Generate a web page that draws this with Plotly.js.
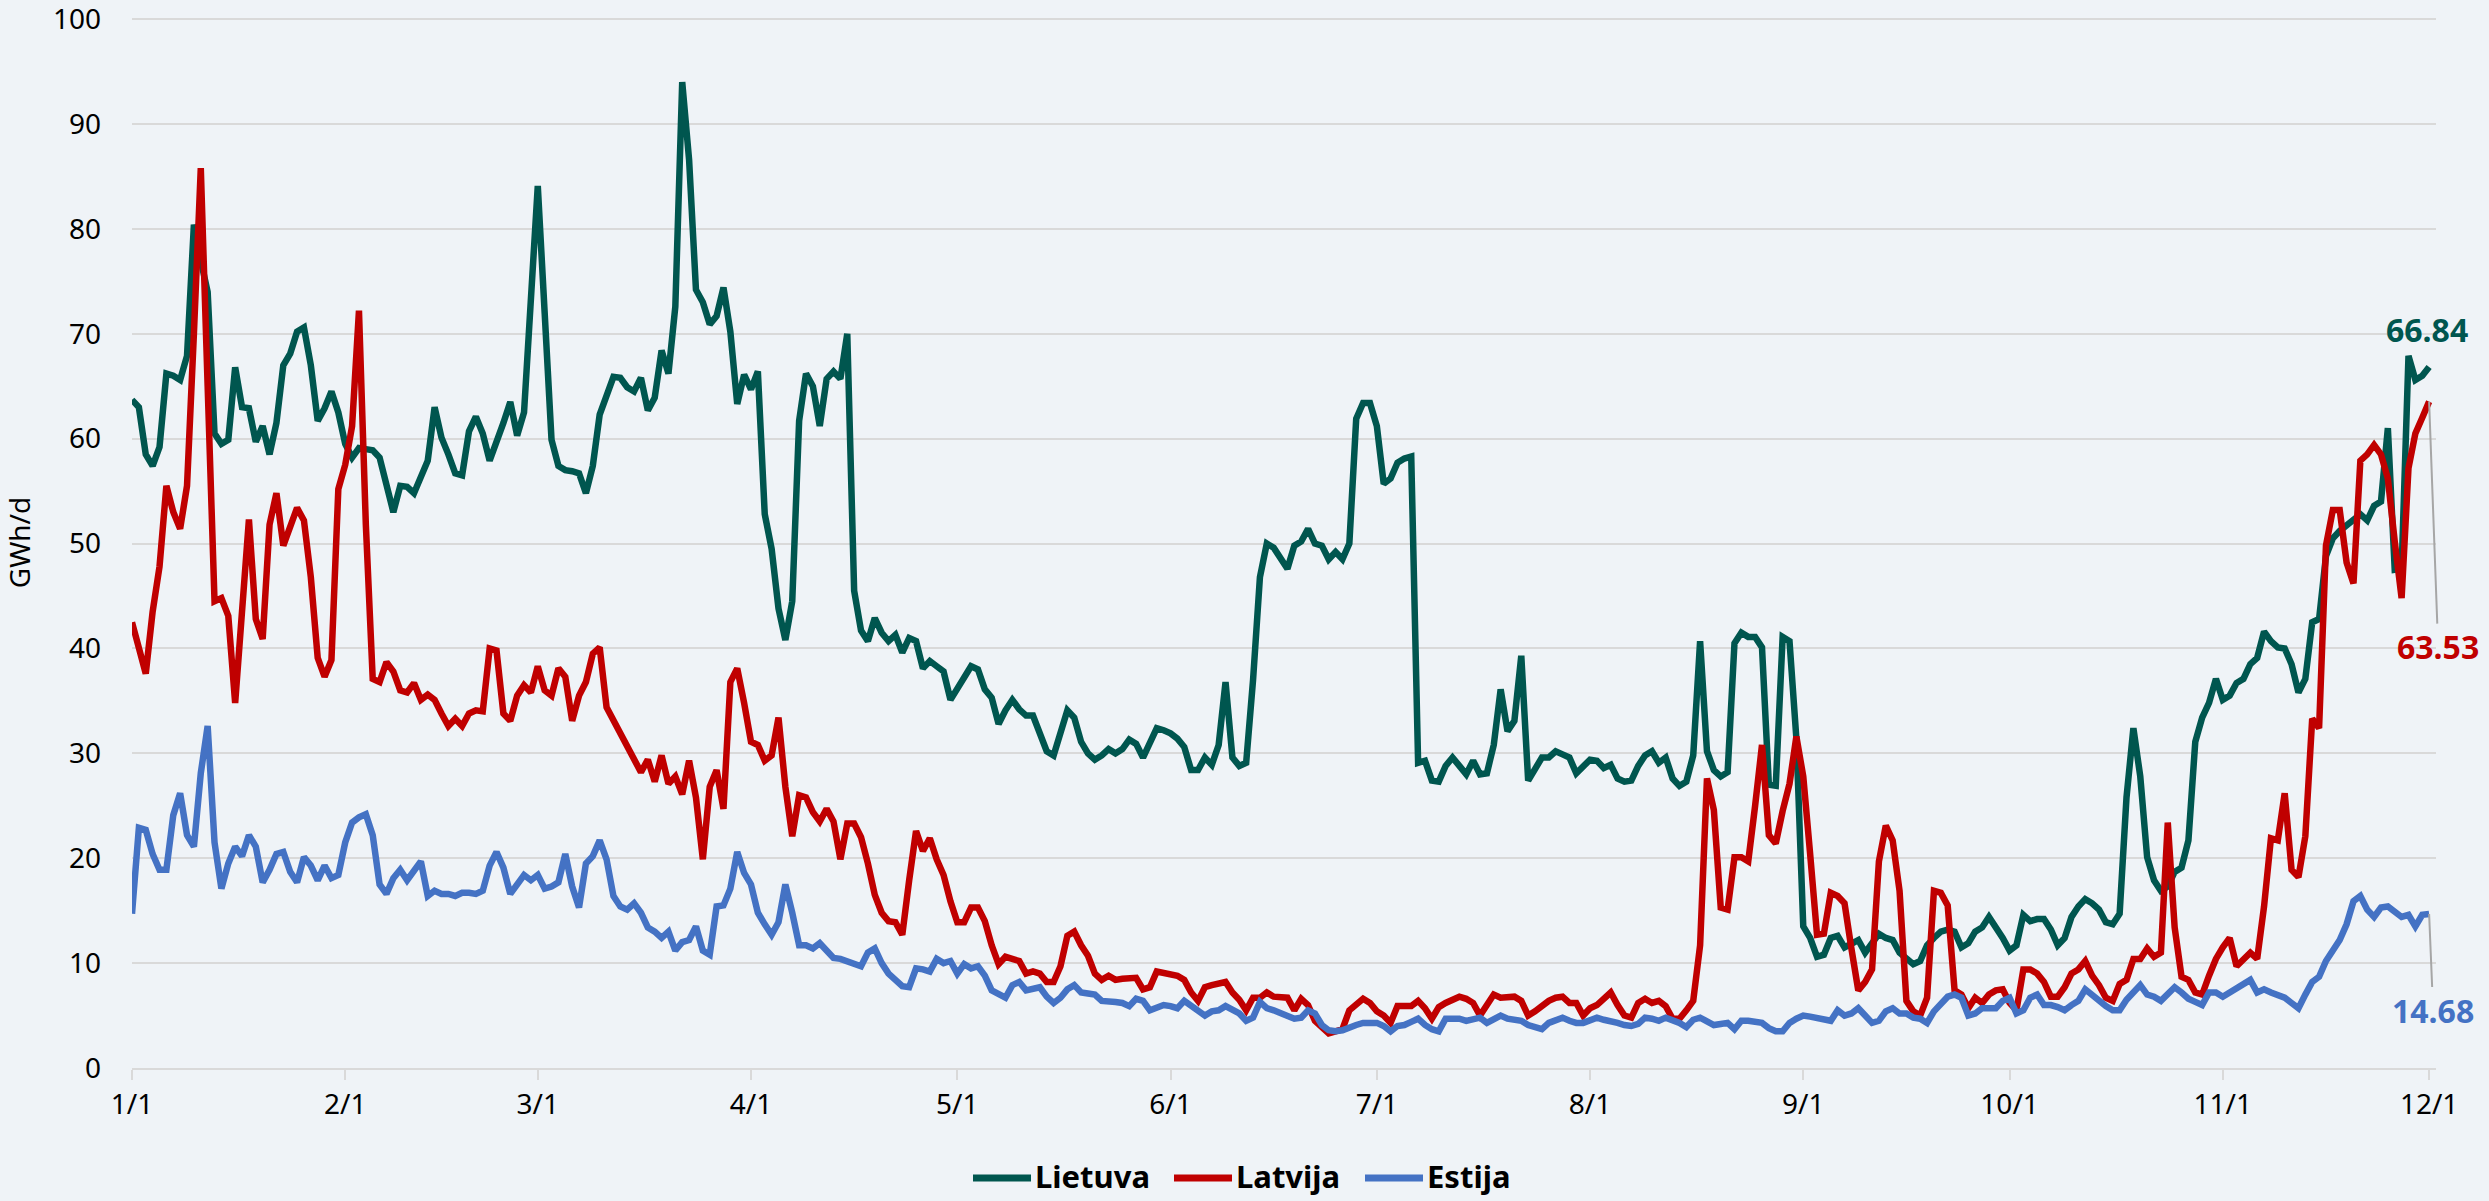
<!DOCTYPE html>
<html><head><meta charset="utf-8">
<script src="https://cdn.plot.ly/plotly-3.0.1.min.js"></script>
<style>html,body{margin:0;padding:0;background:#EFF3F7;} #chart{width:2489px;height:1201px;}</style>
</head><body><div id="chart"></div>
<script>
// Daily values, GWh/d, from 1 Jan to 1 Dec
const startYear = 2023;
const seriesNames = ['Lietuva', 'Latvija', 'Estija'];
const seriesColors = ['#00564F', '#C00000', '#4472C4'];

const lietuva = [
  // Jan
  63.7,63.0,58.5,57.4,59.2,66.2,66.0,65.6,67.9,80.4,77.0,74.0,60.5,59.5,59.9,66.8,63.0,62.9,59.7,61.2,58.5,61.5,67.0,68.1,70.2,70.6,67.0,61.7,62.9,64.5,62.5,
  // Feb
  59.5,58.2,59.1,59.0,58.9,58.2,55.5,53.0,55.5,55.4,54.8,56.3,57.9,63.0,60.1,58.5,56.7,56.5,60.7,62.1,60.5,57.9,59.5,61.5,63.5,60.3,62.5,74.2,
  // Mar
  84.1,72.0,59.9,57.4,57.0,56.9,56.7,54.8,57.4,62.3,63.9,65.9,65.8,64.9,64.5,65.8,62.7,63.9,68.4,66.2,72.6,94.0,86.6,74.2,73.0,70.9,71.7,74.4,70.2,63.3,66.1,
  // Apr
  64.7,66.4,52.8,49.5,43.8,40.8,44.5,61.7,66.2,65.0,61.2,65.7,66.4,65.7,70.0,45.5,41.7,40.7,42.9,41.5,40.7,41.3,39.6,41.0,40.7,38.1,38.8,38.3,37.8,35.1,
  // May
  36.1,37.3,38.3,38.0,36.1,35.3,32.8,34.1,35.1,34.2,33.6,33.6,31.8,30.2,29.8,31.8,34.1,33.4,31.1,30.0,29.4,29.8,30.4,30.0,30.4,31.3,30.9,29.6,30.9,32.4,32.2,
  // Jun
  31.9,31.4,30.6,28.4,28.4,29.6,28.9,30.8,36.8,29.6,28.8,29.1,37.0,46.8,50.0,49.6,48.6,47.6,49.8,50.2,51.4,50.0,49.8,48.5,49.2,48.5,50.0,61.9,63.4,63.4,
  // Jul
  61.2,55.7,56.2,57.7,58.1,58.3,29.1,29.3,27.4,27.3,28.8,29.6,28.8,28.0,29.3,28.0,28.1,30.8,36.1,32.1,33.1,39.3,27.4,28.4,29.6,29.6,30.2,29.9,29.6,28.1,28.8,
  // Aug
  29.4,29.3,28.6,28.9,27.6,27.3,27.4,28.8,29.8,30.2,29.1,29.6,27.6,26.9,27.3,29.8,40.7,30.2,28.4,27.8,28.2,40.5,41.5,41.1,41.1,40.1,27.0,26.9,41.1,40.7,31.4,
  // Sep
  13.5,12.4,10.6,10.8,12.4,12.6,11.5,11.9,12.2,11.0,12.0,12.8,12.4,12.2,11.0,10.5,9.9,10.2,11.7,12.4,13.0,13.2,13.0,11.5,11.9,13.0,13.4,14.4,13.5,12.4,
  // Oct
  11.2,11.7,14.6,14.0,14.2,14.2,13.2,11.7,12.4,14.4,15.4,16.1,15.7,15.1,13.9,13.7,14.7,25.8,32.4,27.8,20.1,17.9,16.9,17.3,18.7,19.1,21.7,31.1,33.4,34.8,37.1,
  // Nov
  35.1,35.5,36.7,37.1,38.5,39.1,41.6,40.7,40.1,40.0,38.5,35.8,37.1,42.5,42.8,48.8,50.5,51.2,51.8,52.3,52.8,52.2,53.6,54.0,61.0,47.5,47.6,67.9,65.6,66.0,
  // Dec
  66.84
];

const latvija = [
  // Jan
  42.5,40.1,37.6,43.5,47.8,55.5,53.0,51.4,55.5,70.0,85.8,65.0,44.5,44.8,43.1,34.8,43.0,52.3,42.8,40.9,51.8,54.8,49.8,51.5,53.4,52.2,46.8,39.1,37.3,38.9,55.2,
  // Feb
  57.5,61.2,72.2,51.8,37.1,36.8,38.7,37.8,36.0,35.8,36.7,35.1,35.6,35.1,33.8,32.6,33.3,32.6,33.8,34.1,34.0,40.0,39.8,33.8,33.1,35.5,36.5,35.8,
  // Mar
  38.3,36.0,35.5,38.1,37.3,33.1,35.5,36.8,39.5,40.1,34.4,33.1,32.0,30.8,29.5,28.2,29.4,27.3,29.8,27.1,27.8,26.1,29.3,25.8,19.9,26.8,28.4,24.7,36.8,38.1,34.8,
  // Apr
  31.1,30.8,29.3,29.8,33.4,26.8,22.1,26.0,25.8,24.4,23.5,24.7,23.5,19.9,23.3,23.3,22.0,19.5,16.5,14.8,14.0,13.9,12.7,17.9,22.6,20.7,21.9,19.9,18.4,15.9,
  // May
  13.9,13.9,15.3,15.3,14.0,11.7,9.9,10.6,10.4,10.2,9.0,9.2,9.0,8.2,8.2,9.7,12.6,13.0,11.7,10.7,9.0,8.4,8.8,8.4,8.5,8.6,8.6,7.5,7.7,9.2,9.1,
  // Jun
  9.0,8.8,8.4,7.2,6.4,7.7,7.9,8.0,8.2,7.2,6.5,5.5,6.7,6.7,7.2,6.8,6.7,6.7,5.5,6.6,6.0,4.5,3.9,3.3,3.5,3.7,5.5,6.0,6.6,6.2,
  // Jul
  5.4,5.0,4.3,5.9,5.9,5.9,6.4,5.7,4.7,5.8,6.2,6.5,6.8,6.6,6.2,5.0,6.0,7.0,6.7,6.8,6.8,6.4,5.0,5.4,6.0,6.4,6.7,6.8,6.2,6.2,5.0,
  // Aug
  5.7,6.0,6.6,7.2,6.0,5.0,4.8,6.2,6.6,6.2,6.4,5.9,4.7,4.7,5.5,6.4,11.7,27.6,24.6,15.3,15.1,20.1,20.1,19.7,25.0,30.8,22.2,21.4,24.5,27.1,31.6,
  // Sep
  27.8,20.4,12.7,12.8,16.7,16.4,15.7,11.4,7.4,8.2,9.4,19.7,23.1,21.7,16.9,6.4,5.4,5.0,6.7,16.9,16.7,15.5,7.4,7.0,5.7,6.7,6.2,7.0,7.4,7.5,
  // Oct
  6.2,5.5,9.4,9.4,9.0,8.2,6.8,6.8,7.7,9.0,9.4,10.2,8.8,7.9,6.7,6.4,8.0,8.4,10.4,10.4,11.4,10.6,11.0,23.4,13.4,8.7,8.4,7.2,7.0,8.8,10.4,
  // Nov
  11.5,12.4,9.7,10.4,11.0,10.4,15.4,21.9,21.7,26.2,18.9,18.2,22.1,33.3,32.4,49.8,53.2,53.2,48.2,46.2,57.9,58.5,59.4,58.5,56.2,50.2,44.8,57.2,60.5,62.0,
  // Dec
  63.53
];

const estija = [
  // Jan
  14.7,22.9,22.7,20.4,18.9,18.9,24.1,26.2,22.2,21.1,28.1,32.6,21.5,17.1,19.5,21.1,20.2,22.2,21.1,17.7,18.9,20.4,20.6,18.7,17.7,20.1,19.3,17.9,19.3,18.1,18.4,
  // Feb
  21.5,23.4,23.9,24.2,22.2,17.5,16.6,18.1,18.9,17.9,18.9,19.7,16.4,16.9,16.6,16.6,16.4,16.7,16.7,16.6,16.9,19.3,20.6,19.1,16.6,17.5,18.4,17.9,
  // Mar
  18.4,17.1,17.3,17.7,20.4,17.3,15.3,19.5,20.2,21.7,19.9,16.4,15.4,15.1,15.7,14.8,13.4,13.0,12.4,13.0,11.2,12.0,12.2,13.5,11.2,10.8,15.4,15.5,17.1,20.6,18.6,
  // Apr
  17.5,14.8,13.7,12.7,13.9,17.5,14.8,11.7,11.7,11.4,11.9,11.3,10.5,10.4,10.2,9.9,9.7,11.0,11.4,10.0,9.0,8.4,7.8,7.7,9.5,9.4,9.2,10.4,10.0,10.2,
  // May
  9.0,9.9,9.5,9.7,8.8,7.4,7.0,6.7,7.9,8.2,7.4,7.6,7.7,6.8,6.2,6.7,7.5,7.9,7.2,7.1,7.0,6.4,6.4,6.3,6.2,5.9,6.6,6.4,5.5,5.8,6.0,
  // Jun
  5.9,5.7,6.4,5.9,5.4,5.0,5.4,5.5,5.9,5.5,5.2,4.5,4.8,6.3,5.7,5.5,5.2,5.0,4.7,4.8,5.5,5.2,4.1,3.6,3.5,3.6,3.9,4.1,4.3,4.3,
  // Jul
  4.3,4.0,3.5,4.0,4.1,4.4,4.7,4.1,3.7,3.5,4.7,4.7,4.7,4.5,4.6,4.8,4.3,4.7,5.0,4.7,4.6,4.5,4.1,3.9,3.7,4.3,4.5,4.8,4.5,4.3,4.3,
  // Aug
  4.6,4.8,4.6,4.5,4.3,4.1,4.0,4.2,4.8,4.7,4.5,4.8,4.6,4.3,3.9,4.6,4.8,4.5,4.1,4.2,4.3,3.7,4.5,4.5,4.4,4.3,3.8,3.5,3.5,4.3,4.7,
  // Sep
  5.0,4.9,4.8,4.6,4.5,5.5,5.0,5.2,5.7,5.0,4.3,4.5,5.4,5.7,5.2,5.2,4.8,4.7,4.3,5.4,6.2,6.8,7.0,6.7,5.0,5.2,5.7,5.7,5.7,6.4,
  // Oct
  6.7,5.2,5.5,6.7,7.0,6.0,6.0,5.8,5.5,6.0,6.4,7.5,6.9,6.4,5.9,5.5,5.5,6.5,7.2,7.9,7.0,6.8,6.4,7.0,7.7,7.2,6.6,6.3,6.0,7.2,7.2,
  // Nov
  6.8,7.2,7.5,7.9,8.4,7.2,7.5,7.2,7.0,6.7,6.2,5.7,7.0,8.2,8.7,10.2,11.2,12.2,13.7,15.9,16.4,15.1,14.4,15.3,15.4,14.8,14.4,14.6,13.5,14.6,
  // Dec
  14.68
];

const tickDates = ['2023-01-01','2023-02-01','2023-03-01','2023-04-01','2023-05-01','2023-06-01',
                   '2023-07-01','2023-08-01','2023-09-01','2023-10-01','2023-11-01','2023-12-01'];
const tickLabels = ['1/1','2/1','3/1','4/1','5/1','6/1','7/1','8/1','9/1','10/1','11/1','12/1'];
const yTicks = [0, 10, 20, 30, 40, 50, 60, 70, 80, 90, 100];

function dailyDates(n) {
  const out = [];
  const t0 = Date.UTC(startYear, 0, 1);
  for (let i = 0; i < n; i++) out.push(new Date(t0 + i * 86400000).toISOString().slice(0, 10));
  return out;
}

const W = 2489, H = 1201;
const M = { l: 132, r: 53, t: 17, b: 133 };
const FONT = 'Noto Sans, Open Sans, DejaVu Sans, sans-serif';
const allSeries = [lietuva, latvija, estija];
const traces = allSeries.map((vals, k) => ({
  type: 'scatter', mode: 'lines', name: seriesNames[k],
  x: dailyDates(vals.length), y: vals,
  line: { color: seriesColors[k], width: 6.5 },
  hoverinfo: 'skip', showlegend: false
}));

const lastX = dailyDates(lietuva.length)[lietuva.length - 1];
const annotations = [
  { x: lastX, y: lietuva[lietuva.length - 1], text: lietuva[lietuva.length - 1].toFixed(2),
    showarrow: false, yshift: 37, xshift: -2,
    font: { family: FONT, size: 32, color: seriesColors[0], weight: 'bold' } },
  { x: lastX, y: latvija[latvija.length - 1], text: latvija[latvija.length - 1].toFixed(2),
    showarrow: true, arrowhead: 0, arrowwidth: 2, arrowcolor: '#A6A6A6', ax: 9, ay: 245, standoff: 0,
    font: { family: FONT, size: 32, color: seriesColors[1], weight: 'bold' } },
  { x: lastX, y: estija[estija.length - 1], text: estija[estija.length - 1].toFixed(2),
    showarrow: true, arrowhead: 0, arrowwidth: 2, arrowcolor: '#A6A6A6', ax: 4, ay: 96, standoff: 0,
    font: { family: FONT, size: 32, color: seriesColors[2], weight: 'bold' } }
];

// Custom legend below the plot (line sample + bold name), in paper coordinates
const plotW = W - M.l - M.r, plotH = H - M.t - M.b;
const px2x = p => (p - M.l) / plotW;
const py2y = p => (H - M.b - p) / plotH;
const legendStarts = [973, 1174, 1365];   // pixel x where each legend sample begins
const legendLineY = 1178, legendTextY = 1176;
const shapes = [];
seriesNames.forEach((name, k) => {
  const x0 = legendStarts[k];
  shapes.push({ type: 'line', xref: 'paper', yref: 'paper',
    x0: px2x(x0), x1: px2x(x0 + 58), y0: py2y(legendLineY), y1: py2y(legendLineY),
    line: { color: seriesColors[k], width: 7 } });
  annotations.push({ xref: 'paper', yref: 'paper', x: px2x(x0 + 60), y: py2y(legendTextY),
    xanchor: 'left', yanchor: 'middle', showarrow: false, text: name,
    font: { family: FONT, size: 31, color: '#000000', weight: 'bold' } });
});

const layout = {
  width: W, height: H,
  paper_bgcolor: '#EFF3F7', plot_bgcolor: '#EFF3F7',
  margin: M,
  font: { family: FONT, size: 28, color: '#000000' },
  showlegend: false,
  xaxis: {
    type: 'date', range: ['2023-01-01', '2023-12-02'],
    tickmode: 'array', tickvals: tickDates, ticktext: tickLabels,
    ticks: 'outside', ticklen: 10, tickwidth: 2, tickcolor: '#D9D9D9',
    showline: true, linecolor: '#D9D9D9', linewidth: 2,
    showgrid: false, zeroline: false, automargin: false,
    tickfont: { family: FONT, size: 28, color: '#000000' }
  },
  yaxis: {
    range: [0, 100.2], tickmode: 'array', tickvals: yTicks,
    showgrid: true, gridcolor: '#D9D9D9', gridwidth: 2,
    zeroline: false, showline: false, ticks: '',
    ticklabelstandoff: 30, ticklabeloverflow: 'allow', automargin: false,
    tickfont: { family: FONT, size: 28, color: '#000000' },
    title: { text: 'GWh/d', font: { family: FONT, size: 28, color: '#000000' }, standoff: 26 }
  },
  shapes: shapes,
  annotations: annotations
};

Plotly.newPlot('chart', traces, layout, { displayModeBar: false, staticPlot: true });
</script>
</body></html>
